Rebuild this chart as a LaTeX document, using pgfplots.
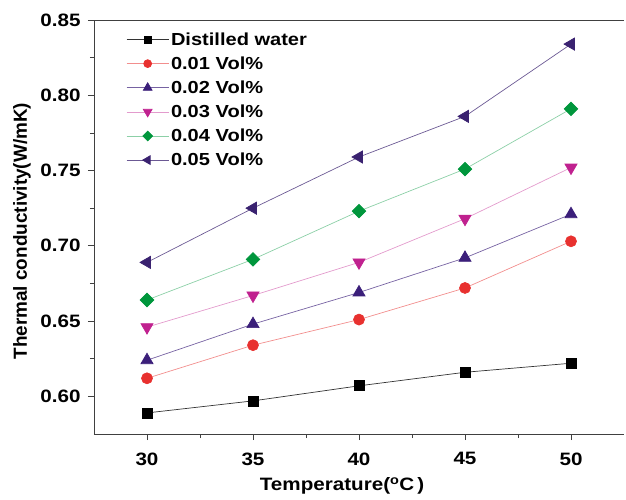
\documentclass[border=0pt]{standalone}
\usepackage{pgfplots}
\pgfplotsset{compat=1.18}
\usepackage{fontspec}
\setmainfont[FakeStretch=1.15]{Liberation Sans}
\newfontfamily\ylfont{Liberation Sans}

\definecolor{cred}{HTML}{E8312F}
\definecolor{cnavy}{HTML}{3B1F7A}
\definecolor{cmag}{HTML}{C0218F}
\definecolor{cgreen}{HTML}{00963C}
\definecolor{cpurp}{HTML}{3A2270}

\begin{document}
\begin{tikzpicture}[x=1bp,y=1bp]
\begin{axis}[
    name=main,
    scale only axis,
    width=530bp, height=414bp,
    xmin=27.5, xmax=52.5,
    ymin=0.575, ymax=0.85,
    axis x line*=box, axis y line*=left,
    axis line style={draw=black!75, line width=0.9pt},
    xtick={30,35,40,45,50},
    ytick={0.60,0.65,0.70,0.75,0.80,0.85},
    minor tick num=1,
    tick align=outside,
    xtick pos=bottom, ytick pos=left,
    major tick length=6bp, minor tick length=4bp,
    tick style={black!75, line width=0.8pt},
    /pgf/number format/assume math mode=true,
    ticklabel style={font=\fontsize{18}{21}\selectfont\bfseries},
    xticklabel style={yshift=-9bp},
    yticklabel style={xshift=-4bp, /pgf/number format/fixed, /pgf/number format/fixed zerofill, /pgf/number format/precision=2},
    xlabel={Temperature(\textsuperscript{o}C\,)},
    ylabel={Thermal conductivity(W/mK)},
    xlabel style={font=\fontsize{18}{21}\selectfont\bfseries,
        at={(axis description cs:0.468,-0.1256)}, anchor=center},
    ylabel style={font=\ylfont\fontsize{19}{23}\selectfont\bfseries,
        at={(axis description cs:-0.1358,0.49)}, anchor=center},
    legend style={draw=none, fill=none, at={(axis description cs:0.055,0.98)}, anchor=north west,
        font=\fontsize{17.5}{21}\selectfont\bfseries, row sep=6bp,
        /tikz/every even column/.append style={column sep=4bp},
        legend cell align=left},
    legend image code/.code={
        \draw[mark repeat=2, mark phase=2, every mark/.append style={scale=0.72}]
        plot coordinates {(0bp,0bp) (21bp,0bp) (42bp,0bp)};},
    legend cell align=left,
    every axis plot/.append style={line width=0.7pt, mark size=5.5bp},
]
\addplot[black!80, mark=square*, mark options={fill=black, draw=black, mark size=5bp}] coordinates {
(30,0.589) (35,0.597) (40,0.607) (45,0.616) (50,0.622)};
\addplot[cred!55, mark=*, mark options={fill=cred, draw=cred}] coordinates {
(30,0.612) (35,0.634) (40,0.651) (45,0.672) (50,0.703)};
\addplot[cnavy!70, mark=triangle*, mark options={fill=cnavy, draw=cnavy, mark size=7bp}] coordinates {
(30,0.624) (35,0.648) (40,0.669) (45,0.692) (50,0.721)};
\addplot[cmag!45, mark=triangle*, mark options={fill=cmag, draw=cmag, rotate=180, mark size=7bp}] coordinates {
(30,0.646) (35,0.667) (40,0.689) (45,0.718) (50,0.752)};
\addplot[cgreen!45, mark=square*, mark options={fill=cgreen, draw=cgreen, rotate=45, mark size=4.8bp}] coordinates {
(30,0.664) (35,0.691) (40,0.723) (45,0.751) (50,0.791)};
\addplot[cpurp!75, mark=triangle*, mark options={fill=cpurp, draw=cpurp, rotate=90, mark size=7bp}] coordinates {
(30,0.689) (35,0.725) (40,0.759) (45,0.786) (50,0.834)};
\legend{Distilled water, 0.01 Vol\%, 0.02 Vol\%, 0.03 Vol\%, 0.04 Vol\%, 0.05 Vol\%}
\end{axis}
\pgfresetboundingbox
\path[use as bounding box] ([shift={(-94bp,-66bp)}]main.south west) rectangle ([shift={(2bp,20bp)}]main.north east);
\end{tikzpicture}
\end{document}
